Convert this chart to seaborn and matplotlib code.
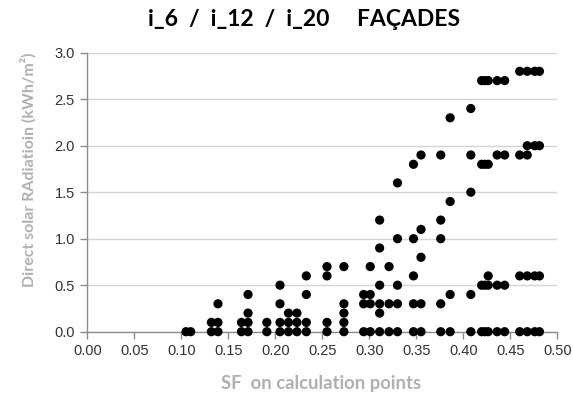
import matplotlib
matplotlib.use("Agg")
import matplotlib.pyplot as plt
import numpy as np
import pandas as pd
import seaborn as sns

# Shading factor of each group of calculation points and the direct radiation values found there
sf_values = [0.105, 0.110, 0.132, 0.139, 0.164, 0.171, 0.191,
             0.205, 0.214, 0.223, 0.233, 0.255, 0.273,
             0.294, 0.301, 0.311, 0.321, 0.330, 0.347, 0.355,
             0.376, 0.386, 0.408, 0.4195, 0.423, 0.4265, 0.436, 0.444,
             0.460, 0.468, 0.476, 0.481]
radiation_values = [
    [0.0], [0.0], [0.0, 0.1], [0.0, 0.1, 0.3], [0.0, 0.1], [0.0, 0.1, 0.2, 0.4], [0.0, 0.1],
    [0.0, 0.1, 0.3, 0.5], [0.0, 0.1, 0.2], [0.0, 0.1, 0.2], [0.0, 0.1, 0.4, 0.6],
    [0.0, 0.1, 0.6, 0.7], [0.0, 0.1, 0.2, 0.3, 0.7],
    [0.0, 0.3, 0.4], [0.0, 0.3, 0.4, 0.7], [0.0, 0.2, 0.3, 0.5, 0.9, 1.2], [0.0, 0.3, 0.7],
    [0.0, 0.3, 0.5, 1.0, 1.6], [0.0, 0.3, 0.6, 1.0, 1.8], [0.0, 0.3, 0.8, 1.1, 1.9],
    [0.0, 0.3, 1.0, 1.2, 1.9], [0.0, 0.4, 1.4, 2.3], [0.0, 0.4, 1.5, 1.9, 2.4],
    [0.0, 0.5, 1.8, 2.7], [0.0, 0.5, 1.8, 2.7], [0.0, 0.5, 0.6, 1.8, 2.7],
    [0.0, 0.5, 1.9, 2.7], [0.0, 0.5, 1.9, 2.7],
    [0.0, 0.6, 1.9, 2.8], [0.0, 0.6, 1.9, 2.0, 2.8], [0.0, 0.6, 2.0, 2.8], [0.0, 0.6, 2.0, 2.8],
]
x_ticks = [0.00, 0.05, 0.10, 0.15, 0.20, 0.25, 0.30, 0.35, 0.40, 0.45, 0.50]
y_ticks = [0.0, 0.5, 1.0, 1.5, 2.0, 2.5, 3.0]

df = pd.DataFrame(
    [(sf, r) for sf, levels in zip(sf_values, radiation_values) for r in levels],
    columns=["SF", "Radiation"],
)

sns.set_theme(style="white")
plt.rcParams["font.family"] = ["Liberation Sans", "DejaVu Sans"]

fig = plt.figure(figsize=(5.73, 3.99), dpi=100)
ax = fig.add_axes([87.3 / 573, 1 - 331.7 / 399, 470 / 573, 279 / 399])

sns.scatterplot(data=df, x="SF", y="Radiation", ax=ax, color="black",
                s=44, edgecolor="none", clip_on=False, zorder=3, legend=False)

ax.set_xlim(0, 0.5)
ax.set_ylim(0, 3.0)
ax.set_xticks(x_ticks)
ax.set_yticks(y_ticks)
ax.set_xticklabels([f"{v:.2f}" for v in x_ticks])
ax.set_yticklabels([f"{v:.1f}" for v in y_ticks])

ax.yaxis.grid(True, color="#d4d4d4", linewidth=1.0)
ax.xaxis.grid(False)
ax.set_axisbelow(True)
for side in ("top", "right"):
    ax.spines[side].set_visible(False)
for side in ("left", "bottom"):
    ax.spines[side].set_color("#8c8c8c")
    ax.spines[side].set_linewidth(1.0)

ax.tick_params(axis="both", which="both", direction="out", length=5, width=1,
               color="#8c8c8c", labelsize=10.5, labelcolor="#333333", pad=4,
               bottom=True, left=True)
ax.set_xlabel("")
ax.set_ylabel("")

fig.text(304 / 573, 1 - 20 / 399, "i_6  /  i_12  /  i_20     FAÇADES",
         ha="center", va="center", fontsize=16.5, fontweight="bold",
         family=["Lato", "DejaVu Sans"], color="black")
fig.text(28 / 573, 1 - 170 / 399, "Direct solar RAdiatioin (kWh/m²)",
         ha="center", va="center", rotation=90, fontsize=11.5, fontweight="bold",
         family=["Lato", "DejaVu Sans"], color="#b0b0b0")
fig.text(321 / 573, 1 - 383 / 399, "SF  on calculation points",
         ha="center", va="center", fontsize=13.3, fontweight="bold",
         family=["Lato", "DejaVu Sans"], color="#b0b0b0")

fig.savefig("out.png", dpi=100)
